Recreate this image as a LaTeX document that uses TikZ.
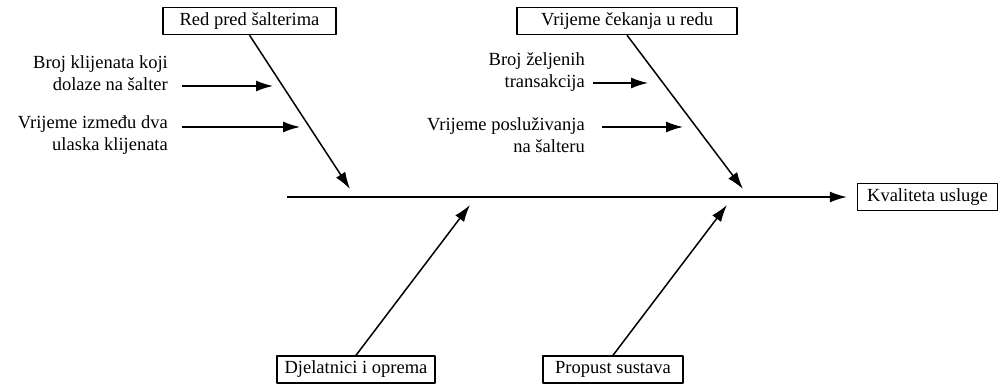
\documentclass[tikz,border=0pt]{standalone}
\usepackage{fontspec}
\setmainfont{Liberation Serif}
\usetikzlibrary{arrows.meta}
\begin{document}
\begin{tikzpicture}[>={Latex[length=17bp,width=11bp]},line join=bevel,
  font=\fontsize{18.5bp}{22bp}\selectfont,
  causebox/.style={draw,line width=1.4bp,inner xsep=4bp,minimum height=27bp,inner ysep=0bp},
  factor/.style={align=right,anchor=east,inner sep=0bp},
  bone/.style={->,line width=1.5bp}]
\useasboundingbox (0bp,0bp) rectangle (1001bp,384bp);
%%
\node (effect) at (927.5bp,187bp) [causebox,minimum width=140bp] {Kvaliteta usluge};
  \node (red) at (249.5bp,363bp) [causebox,minimum width=173bp] {Red pred šalterima};
  \node (cek) at (627bp,363bp) [causebox,minimum width=220bp] {Vrijeme čekanja u redu};
  \node (djel) at (356bp,14.5bp) [causebox,minimum width=158bp] {Djelatnici i oprema};
  \node (prop) at (613bp,14.5bp) [causebox,minimum width=140bp] {Propust sustava};
%
  \coordinate (tail) at (287bp,187bp);
  \coordinate (t_red) at (350bp,195bp);
  \coordinate (t_cek) at (743bp,195bp);
  \coordinate (t_djel) at (470bp,179bp);
  \coordinate (t_prop) at (727bp,179bp);
%
  \node (f_1) at (168bp,310.5bp) [factor] {Broj klijenata koji\\dolaze na šalter};
  \node (f_2) at (168bp,248.5bp) [factor] {Vrijeme između dva\\ulaska klijenata};
  \node (f_3) at (585bp,311.5bp) [factor] {Broj željenih\\transakcija};
  \node (f_4) at (585bp,248.5bp) [factor] {Vrijeme posluživanja\\na šalteru};
  \coordinate (s_1) at (182bp,298bp);  \coordinate (e_1) at (273bp,298bp);
  \coordinate (s_2) at (182bp,257bp);  \coordinate (e_2) at (300bp,257bp);
  \coordinate (s_3) at (593bp,301bp);  \coordinate (e_3) at (648bp,301bp);
  \coordinate (s_4) at (602bp,257bp);  \coordinate (e_4) at (683bp,257bp);
%%
  \draw [bone,shorten >=10bp] (tail) -- (effect.west);
  \draw [bone] (red.south) -- (t_red);
  \draw [bone] (cek.south) -- (t_cek);
  \draw [bone] (djel.north) -- (t_djel);
  \draw [bone] (prop.north) -- (t_prop);
  \draw [bone] (s_1) -- (e_1);
  \draw [bone] (s_2) -- (e_2);
  \draw [bone] (s_3) -- (e_3);
  \draw [bone] (s_4) -- (e_4);
%
\end{tikzpicture}
\end{document}
